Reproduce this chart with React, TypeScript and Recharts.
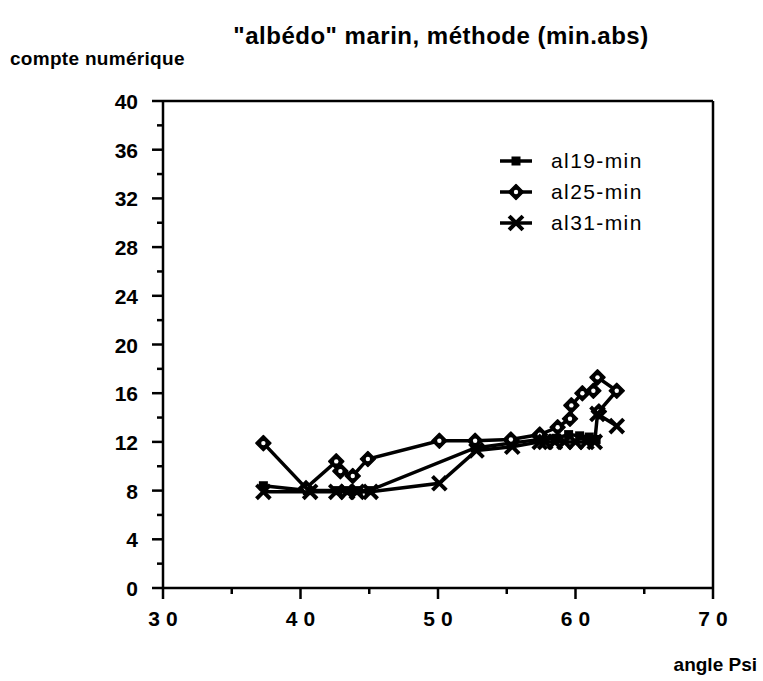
import { LineChart, Line, XAxis, YAxis, ReferenceLine, Legend } from "recharts";

// angle Psi / compte numérique
const al19Psi = [37.3, 40.5, 42.7, 43.5, 44.2, 45.0, 52.7, 55.3, 57.4, 58.6, 59.5, 60.3, 61.0, 61.5];
const al19Count = [8.4, 8.0, 8.0, 8.0, 8.0, 8.0, 11.5, 11.9, 12.2, 12.3, 12.6, 12.5, 12.4, 12.2];

const al25Psi = [37.3, 40.4, 42.6, 42.9, 43.8, 44.9, 50.1, 52.7, 55.3, 57.4, 58.7, 59.6, 59.7, 60.5, 61.3, 61.6, 63.0, 61.7];
const al25Count = [11.9, 8.2, 10.4, 9.6, 9.2, 10.6, 12.1, 12.1, 12.2, 12.6, 13.2, 13.9, 15.0, 16.0, 16.2, 17.3, 16.2, 14.5];

const al31Psi = [37.3, 40.7, 42.6, 43.4, 44.1, 45.1, 50.1, 52.8, 55.4, 57.4, 57.8, 58.5, 59.2, 60.0, 60.8, 61.4, 61.6, 63.0];
const al31Count = [7.9, 7.9, 7.9, 7.9, 7.9, 7.9, 8.6, 11.3, 11.6, 12.0, 12.0, 12.0, 12.0, 12.0, 12.0, 12.0, 14.3, 13.3];

const xTicks = [30, 35, 40, 45, 50, 55, 60, 65, 70];
const yTicks = [0, 2, 4, 6, 8, 10, 12, 14, 16, 18, 20, 22, 24, 26, 28, 30, 32, 34, 36, 38, 40];

const toPoints = (psi: number[], count: number[]) =>
  psi.map((p, i) => ({ psi: p, count: count[i] }));

const FONT = "'Liberation Sans', Arial, Helvetica, sans-serif";
const INK = "#000";

const drawMarker = (kind: string, cx: number, cy: number) => {
  if (kind === "square") {
    return <rect x={cx - 4.5} y={cy - 4.5} width={9} height={9} fill={INK} />;
  }
  if (kind === "diamond") {
    return (
      <g>
        <polygon
          points={`${cx},${cy - 7.5} ${cx + 7.5},${cy} ${cx},${cy + 7.5} ${cx - 7.5},${cy}`}
          fill={INK}
          stroke={INK}
          strokeWidth={1.5}
          strokeLinejoin="round"
        />
        <circle cx={cx} cy={cy} r={2.2} fill="#fff" />
      </g>
    );
  }
  return (
    <g stroke={INK} strokeWidth={4} strokeLinecap="square">
      <line x1={cx - 5.5} y1={cy - 5.5} x2={cx + 5.5} y2={cy + 5.5} />
      <line x1={cx - 5.5} y1={cy + 5.5} x2={cx + 5.5} y2={cy - 5.5} />
    </g>
  );
};

const markerOf: Record<string, string> = {
  "al19-min": "square",
  "al25-min": "diamond",
  "al31-min": "cross",
};

const makeDot = (kind: string) => (props: any) => {
  const { cx, cy, index } = props;
  if (cx == null || cy == null) return <g key={index} />;
  return <g key={index}>{drawMarker(kind, cx, cy)}</g>;
};

const YTick = (props: any) => {
  const { x, y, payload } = props;
  const major = payload.value % 4 === 0;
  return (
    <g>
      <line x1={x - (major ? 11 : 6)} x2={x} y1={y} y2={y} stroke={INK} strokeWidth={2.5} />
      {major && (
        <text x={x - 25} y={y} dy={8} textAnchor="end" fontSize={21} fontWeight="bold" fontFamily={FONT} fill={INK}>
          {payload.value}
        </text>
      )}
    </g>
  );
};

const XTick = (props: any) => {
  const { x, y, payload } = props;
  const major = payload.value % 10 === 0;
  return (
    <g>
      <line x1={x} x2={x} y1={y} y2={y + (major ? 11 : 6)} stroke={INK} strokeWidth={2.5} />
      {major && (
        <text x={x + 3} y={y + 38} textAnchor="middle" fontSize={21} fontWeight="bold" fontFamily={FONT} letterSpacing={6} fill={INK}>
          {payload.value}
        </text>
      )}
    </g>
  );
};

const renderLegend = (props: any) => {
  const { payload } = props;
  return (
    <div style={{ fontFamily: FONT }}>
      {(payload || []).map((entry: any) => (
        <div key={entry.value} style={{ display: "flex", alignItems: "center", height: 31 }}>
          <svg width={36} height={20}>
            <line x1={2} x2={34} y1={10} y2={10} stroke={INK} strokeWidth={3.5} />
            {drawMarker(markerOf[entry.value], 18, 10)}
          </svg>
          <span style={{ marginLeft: 17, fontSize: 21, letterSpacing: 1.4, color: INK, lineHeight: "21px" }}>
            {entry.value}
          </span>
        </div>
      ))}
    </div>
  );
};

const series = [
  { name: "al19-min", data: toPoints(al19Psi, al19Count) },
  { name: "al25-min", data: toPoints(al25Psi, al25Count) },
  { name: "al31-min", data: toPoints(al31Psi, al31Count) },
];

export default function App() {
  return (
    <div style={{ position: "absolute", left: 0, top: 0, width: 763, height: 681, background: "#fff" }}>
      <LineChart width={763} height={681} margin={{ top: 101, right: 50, bottom: 0, left: 0 }}>
        <XAxis
          type="number"
          dataKey="psi"
          domain={[30, 70]}
          ticks={xTicks}
          interval={0}
          height={93}
          tickSize={0}
          tickMargin={0}
          tickLine={false}
          axisLine={{ stroke: INK, strokeWidth: 2.5 }}
          tick={<XTick />}
          allowDataOverflow
        />
        <YAxis
          type="number"
          dataKey="count"
          domain={[0, 40]}
          ticks={yTicks}
          interval={0}
          width={163}
          tickSize={0}
          tickMargin={0}
          tickLine={false}
          axisLine={{ stroke: INK, strokeWidth: 2.5 }}
          tick={<YTick />}
          allowDataOverflow
        />
        <ReferenceLine y={40} stroke={INK} strokeWidth={2.5} />
        <ReferenceLine x={70} stroke={INK} strokeWidth={2.5} />
        <Legend
          layout="vertical"
          align="center"
          verticalAlign="middle"
          content={renderLegend}
          wrapperStyle={{ left: 498, top: 145, width: 220 }}
        />
        {series.map((s) => (
          <Line
            key={s.name}
            name={s.name}
            data={s.data}
            dataKey="count"
            type="linear"
            stroke={INK}
            strokeWidth={3.5}
            dot={makeDot(markerOf[s.name])}
            activeDot={false}
            isAnimationActive={false}
          />
        ))}
      </LineChart>
      <svg
        width={763}
        height={681}
        style={{ position: "absolute", left: 0, top: 0, pointerEvents: "none" }}
      >
        <text x={441} y={44} textAnchor="middle" fontSize={24} fontWeight="bold" fontFamily={FONT} letterSpacing={0.5} fill={INK}>
          "albédo" marin, méthode (min.abs)
        </text>
        <text x={10} y={65} fontSize={19} fontWeight="bold" fontFamily={FONT} letterSpacing={0.3} fill={INK}>
          compte numérique
        </text>
        <text x={757} y={671} textAnchor="end" fontSize={19} fontWeight="bold" fontFamily={FONT} fill={INK}>
          angle Psi
        </text>
      </svg>
    </div>
  );
}
